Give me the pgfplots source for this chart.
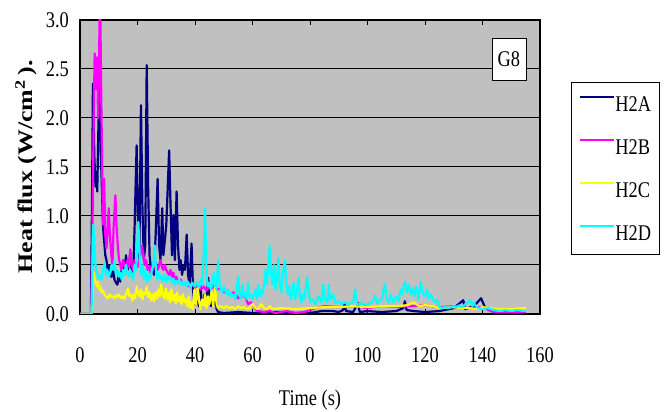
\documentclass[border=0pt]{standalone}
\usepackage{fontspec}
\usepackage{graphicx}
\setmainfont[FakeStretch=0.82]{Liberation Serif}
\newfontfamily\ylfont{Liberation Serif}
\usepackage{pgfplots}
\pgfplotsset{compat=1.18}
\definecolor{plotgray}{RGB}{192,192,192}
\definecolor{cnavy}{RGB}{0,0,128}
\definecolor{cmag}{RGB}{255,0,255}
\definecolor{cyel}{RGB}{255,255,0}
\definecolor{ccyan}{RGB}{0,255,255}
\newcommand{\bigf}{\fontsize{22.5}{24}\selectfont}
\begin{document}
\begin{tikzpicture}[font=\bigf]
\path[use as bounding box] (0,0) rectangle (668bp,412bp);
\begin{axis}[
  at={(80bp,98bp)}, anchor=south west,
  scale only axis, width=460bp, height=294bp,
  xmin=0, xmax=160, ymin=0, ymax=3,
  xtick={0,20,...,160}, xticklabels={0,20,40,60,0,100,120,140,160},
  ytick={0,0.5,1,1.5,2,2.5,3},
  axis background/.style={fill=plotgray},
  ymajorgrids, grid style={black, line width=1bp},
  tick align=inside, major tick length=5bp,
  tick style={black, line width=1bp},
  axis line style={black, line width=1.6bp},
  /pgf/number format/assume math mode=true,
  every tick label/.append style={font=\bigf},
  yticklabel style={/pgf/number format/.cd, fixed, fixed zerofill, precision=1, /tikz/.cd, inner sep=0pt, xshift=-11bp},
  xticklabel style={inner sep=0pt, yshift=-33bp},
  xlabel={Time (s)},
  xlabel style={font=\bigf, at={(axis description cs:0.5,-0.2925)}, anchor=center},
  ylabel={\scalebox{1}[0.8]{\ylfont\fontsize{26}{28}\selectfont\bfseries Heat flux (W/cm\textsuperscript{2}\,).}},
  ylabel style={at={(axis description cs:-0.1174,0.5)}, anchor=center},
  legend cell align=left,
  legend image code/.code={\draw[#1, line width=2bp] (0bp,7bp) -- (34bp,7bp);},
  legend style={at={(axis description cs:1.0674,0.789)}, anchor=north west,
    draw=black, fill=white, line width=0.9bp, inner xsep=8bp, inner ysep=14bp,
    font=\bigf, nodes={inner sep=0pt, text height=14bp, text depth=0bp},
    row sep=28bp, /tikz/every even column/.append style={column sep=3bp}},
  every axis plot/.append style={line width=2.2bp, line join=round},
]
\addplot[cnavy] coordinates {
(0,0) (3.8,0) (4.2,1.2) (4.5,2.35) (5.0,1.6) (5.4,1.3) (5.7,1.45) (6.0,1.25) (6.4,1.9) (6.8,2.37) (7.2,1.7) (7.6,1.3) (8.0,0.9) (8.4,0.75) (8.8,0.6) (9.2,0.55) (9.6,0.45) (10.0,0.5) (10.5,0.4) (11,0.38) (11.5,0.45) (12,0.35) (12.5,0.32) (13,0.3) (13.5,0.4) (14,0.33) (14.5,0.45) (15,0.55) (15.5,0.42) (16,0.6) (16.5,0.45) (17,0.5) (17.5,0.62) (18,0.42) (18.5,0.4) (19,0.9) (19.7,1.72) (20.2,0.9) (20.6,0.5) (21.2,2.13) (21.7,1.1) (22.2,0.55) (22.7,0.7) (23.2,2.54) (23.7,1.3) (24.2,0.6) (24.7,0.45) (25.2,0.5) (25.7,0.4) (26.3,0.8) (27,1.38) (27.5,0.7) (28,0.55) (28.6,1.08) (29,0.6) (29.5,0.75) (30,0.9) (30.4,1.2) (31,1.67) (31.5,1.1) (32,0.6) (32.5,1.01) (33,0.55) (33.6,1.25) (34.1,0.7) (34.6,0.45) (35,0.55) (35.5,0.4) (36,0.5) (36.5,0.45) (37.1,0.81) (37.6,0.4) (38.1,0.3) (38.8,0.72) (39.3,0.25) (39.8,0.1) (40.3,0.12) (40.8,0.22) (41.3,0.08) (41.8,0.3) (42.3,0.12) (42.8,0.08) (43.3,0.2) (43.8,0.1) (44.3,0.25) (44.6,0.37) (45.1,0.15) (45.6,0.08) (46.1,0.18) (46.6,0.1) (47,0.25) (47.5,0.05) (48,0.02) (50,0.01) (55,0.02) (60,0.01) (65,0.02) (70,0.02) (75,0.01) (80,0.01) (84,0.03) (88,0.03) (90,0.02) (91.5,0.04) (92,0.11) (92.5,0.03) (95,0.02) (96.7,0.11) (97.3,0.02) (100,0.03) (105,0.02) (110,0.03) (112.5,0.06) (113,0.13) (113.6,0.04) (116,0.03) (120,0.02) (125,0.03) (130,0.06) (133.3,0.14) (134,0.05) (137,0.08) (139.5,0.16) (141,0.06) (143,0.03) (146,0.01) (155,0.01)
};
\addlegendentry{H2A}
\addplot[cmag] coordinates {
(0,0) (3.9,0) (4.3,0.8) (4.7,1.8) (5.1,2.66) (5.5,2.3) (5.9,2.62) (6.3,2.0) (6.6,2.5) (6.8,3.0) (7.1,3.0) (7.4,2.2) (7.7,1.52) (8.0,0.91) (8.4,1.38) (8.8,0.8) (9.2,0.67) (9.6,0.85) (10,1.08) (10.4,0.8) (10.9,0.6) (11.3,0.5) (11.7,0.9) (12.3,1.21) (12.7,0.9) (13.2,0.67) (13.6,0.55) (14,0.5) (14.5,0.45) (15,0.55) (15.5,0.5) (16,0.45) (16.5,0.55) (17,0.48) (17.5,0.66) (18,0.5) (18.5,0.45) (19,0.55) (19.5,0.5) (20,0.48) (20.5,0.55) (21,0.6) (21.5,0.7) (22,0.62) (22.5,0.5) (23,0.55) (23.5,0.45) (24,0.48) (24.5,0.42) (25,0.5) (25.5,0.45) (26,0.55) (26.5,0.5) (27,0.45) (27.5,0.5) (28,0.55) (28.5,0.48) (29,0.45) (29.5,0.5) (30,0.45) (30.5,0.42) (31,0.4) (31.5,0.45) (32,0.38) (32.5,0.42) (33,0.35) (33.5,0.38) (34,0.33) (35,0.35) (36,0.3) (37,0.32) (38,0.28) (39,0.3) (40,0.27) (41,0.3) (42,0.25) (43,0.28) (44,0.24) (45,0.28) (46,0.26) (47,0.3) (48,0.25) (48.7,0.26) (50,0.22) (51,0.24) (52,0.2) (53,0.22) (54,0.21) (55,0.16) (56,0.18) (57.4,0.18) (58.5,0.1) (59.5,0.12) (60.6,0.06) (62,0.03) (64,0.02) (66,0.03) (68,0.01) (70,0.02) (72,0.03) (75,0.01) (78,0.02) (80,0.04) (82,0.06) (85,0.08) (90,0.07) (95,0.08) (100,0.06) (105,0.08) (110,0.07) (115,0.08) (120,0.09) (125,0.07) (130,0.08) (135,0.06) (140,0.07) (143,0.03) (145,0.02) (150,0.02) (155,0.02)
};
\addlegendentry{H2B}
\addplot[cyel] coordinates {
(0,0) (4.0,0) (4.4,0.3) (4.8,0.42) (5.2,0.35) (5.6,0.3) (6.0,0.28) (6.3,0.33) (6.7,0.25) (7.1,0.28) (7.5,0.22) (8,0.24) (8.5,0.2) (9,0.18) (9.7,0.16) (10.3,0.2) (11,0.17) (11.5,0.18) (12,0.16) (12.5,0.19) (13,0.17) (13.5,0.2) (14.3,0.16) (15,0.18) (15.5,0.15) (16,0.2) (16.7,0.26) (17.2,0.18) (17.7,0.2) (18.2,0.14) (18.7,0.2) (19.2,0.16) (19.7,0.28) (20.2,0.22) (20.7,0.18) (21.2,0.25) (21.7,0.15) (22.2,0.22) (22.7,0.2) (23.2,0.28) (23.7,0.17) (24.2,0.22) (24.7,0.14) (25.2,0.2) (25.7,0.13) (26.2,0.22) (26.7,0.16) (27.2,0.25) (27.7,0.18) (28.2,0.3) (28.7,0.2) (29.3,0.16) (29.8,0.26) (30.3,0.15) (30.8,0.22) (31.3,0.12) (31.8,0.25) (32.3,0.14) (32.8,0.2) (33.3,0.11) (33.8,0.22) (34.3,0.13) (34.8,0.18) (35.3,0.1) (35.8,0.2) (36.3,0.12) (36.8,0.15) (37.3,0.08) (37.8,0.18) (38.3,0.06) (38.8,0.12) (39.3,0.05) (39.8,0.25) (40.3,0.1) (41,0.26) (41.5,0.12) (42,0.05) (42.5,0.15) (43,0.08) (43.5,0.2) (44,0.06) (44.5,0.18) (45,0.1) (45.8,0.23) (46.3,0.08) (47,0.28) (47.5,0.1) (48,0.06) (49,0.08) (50,0.06) (51,0.08) (52,0.06) (53,0.07) (54,0.05) (55,0.08) (56,0.06) (57,0.07) (58,0.05) (59,0.06) (60,0.1) (61,0.06) (62,0.05) (63,0.1) (64,0.06) (65,0.05) (66,0.08) (67,0.05) (70,0.06) (75,0.05) (80,0.06) (85,0.07) (90,0.07) (95,0.08) (100,0.07) (105,0.08) (110,0.08) (114,0.09) (116,0.12) (118,0.08) (120,0.09) (123,0.08) (125,0.06) (130,0.07) (135,0.06) (138,0.05) (140,0.07) (145,0.05) (150,0.05) (155,0.06)
};
\addlegendentry{H2C}
\addplot[ccyan] coordinates {
(0,0) (4.0,0) (4.3,0.5) (4.6,0.91) (5.0,0.7) (5.4,0.5) (5.8,0.43) (6.2,0.38) (6.6,0.36) (7,0.4) (7.5,0.35) (8,0.45) (8.6,0.52) (9,0.4) (9.5,0.45) (10,0.38) (10.5,0.42) (11,0.5) (11.5,0.45) (12,0.55) (12.5,0.4) (13,0.45) (13.5,0.38) (14,0.42) (14.5,0.35) (15,0.45) (15.5,0.4) (16,0.5) (16.5,0.42) (17,0.38) (17.5,0.45) (18,0.4) (18.5,0.35) (19,0.5) (19.5,0.45) (20.3,0.94) (20.8,0.55) (21.3,0.4) (21.8,0.5) (22.3,0.35) (22.8,0.45) (23.4,0.33) (24,0.4) (24.5,0.36) (25,0.45) (25.5,0.5) (26,0.7) (26.5,0.4) (27,0.35) (27.5,0.42) (28,0.36) (28.5,0.38) (29,0.34) (29.5,0.4) (30,0.33) (30.5,0.38) (31,0.35) (31.5,0.37) (32,0.32) (32.5,0.36) (33,0.3) (33.5,0.34) (34,0.31) (34.5,0.35) (35,0.3) (35.5,0.33) (36,0.29) (36.5,0.32) (37,0.28) (37.5,0.33) (38,0.3) (38.5,0.27) (39,0.32) (39.5,0.3) (40,0.28) (40.5,0.33) (41,0.3) (41.5,0.27) (42,0.35) (42.5,0.3) (43,0.6) (43.5,1.08) (44,0.4) (44.5,0.28) (45,0.32) (45.5,0.25) (46,0.3) (46.5,0.42) (47,0.3) (47.5,0.25) (48.1,0.55) (48.6,0.3) (49,0.25) (49.5,0.22) (50,0.28) (50.5,0.24) (51,0.2) (51.5,0.25) (52,0.18) (52.5,0.22) (53,0.18) (53.5,0.2) (54,0.15) (54.5,0.25) (55,0.38) (55.5,0.2) (56,0.15) (56.5,0.3) (57,0.18) (57.5,0.22) (58,0.15) (58.5,0.32) (59,0.17) (59.5,0.2) (60,0.15) (61,0.25) (61.5,0.15) (62,0.3) (62.5,0.18) (63,0.25) (63.5,0.2) (64,0.3) (64.5,0.45) (65,0.3) (65.5,0.5) (66,0.69) (66.5,0.4) (67,0.3) (67.5,0.5) (68,0.25) (68.5,0.35) (69,0.57) (69.5,0.3) (70,0.22) (70.5,0.4) (71.3,0.55) (71.8,0.3) (72.3,0.2) (72.8,0.28) (73.3,0.15) (73.8,0.2) (74.3,0.32) (74.8,0.15) (75.3,0.2) (76,0.37) (76.5,0.18) (77,0.12) (77.5,0.2) (78,0.15) (79,0.37) (79.7,0.2) (80.2,0.12) (81,0.15) (82,0.1) (83,0.18) (84,0.12) (84.6,0.3) (85.2,0.15) (86,0.12) (86.5,0.3) (87,0.14) (88,0.2) (89,0.11) (90,0.13) (91,0.1) (92,0.12) (93,0.1) (94,0.11) (95,0.12) (95.7,0.25) (96.3,0.1) (97,0.1) (98,0.11) (99,0.09) (100,0.1) (101,0.11) (102,0.14) (102.6,0.19) (103.3,0.11) (104,0.13) (105,0.15) (106,0.31) (106.7,0.15) (107.5,0.12) (108,0.2) (109,0.12) (110,0.18) (110.8,0.13) (111.5,0.25) (112,0.2) (113,0.33) (113.7,0.22) (114.3,0.3) (115,0.2) (115.7,0.27) (116.3,0.18) (117,0.28) (117.7,0.15) (118.5,0.33) (119.2,0.22) (120,0.18) (120.7,0.25) (121.3,0.15) (122,0.2) (122.7,0.15) (123.5,0.12) (124.3,0.15) (125,0.07) (126,0.06) (127,0.07) (128,0.06) (129,0.07) (130,0.08) (131,0.07) (132,0.09) (133,0.07) (134,0.1) (135,0.12) (135.6,0.14) (136.5,0.08) (137,0.12) (137.5,0.09) (138.5,0.06) (140,0.05) (142,0.06) (144,0.04) (146,0.03) (148,0.04) (150,0.03) (152,0.04) (155,0.03)
};
\addlegendentry{H2D}
\node[draw=black, fill=white, line width=0.9bp, minimum width=34bp, minimum height=42bp, inner sep=0pt, font=\bigf] at (axis cs:149.2,2.60) {G8};
\end{axis}
\end{tikzpicture}
\end{document}
